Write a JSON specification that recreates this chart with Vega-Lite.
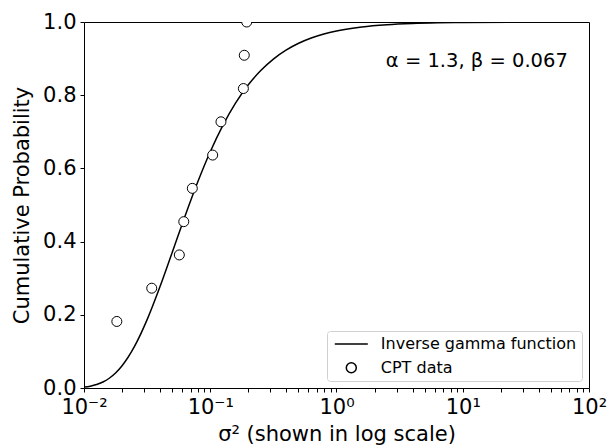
{
  "$schema": "https://vega.github.io/schema/vega-lite/v6.json",
  "width": 505,
  "height": 366,
  "autosize": {"type": "none"},
  "padding": {"left": 84, "top": 22, "right": 18, "bottom": 60},
  "config": {
    "view": {"stroke": "black", "strokeWidth": 1},
    "font": "DejaVu Sans",
    "axis": {
      "labelFont": "DejaVu Sans",
      "titleFont": "DejaVu Sans",
      "labelColor": "black",
      "titleColor": "black",
      "tickColor": "black",
      "tickWidth": 1,
      "ticks": true,
      "domain": false,
      "grid": false,
      "labelFontSize": 21,
      "titleFontSize": 21,
      "titleFontWeight": "normal"
    }
  },
  "datasets": {
    "curve": [
      {"x": 0.01, "F": 0.00253},
      {"x": 0.011220, "F": 0.00508},
      {"x": 0.012589, "F": 0.00944},
      {"x": 0.014125, "F": 0.01635},
      {"x": 0.015849, "F": 0.02661},
      {"x": 0.017783, "F": 0.04097},
      {"x": 0.019953, "F": 0.06003},
      {"x": 0.025119, "F": 0.11352},
      {"x": 0.031623, "F": 0.18673},
      {"x": 0.039811, "F": 0.27513},
      {"x": 0.050119, "F": 0.37178},
      {"x": 0.063096, "F": 0.46942},
      {"x": 0.079433, "F": 0.56193},
      {"x": 0.1, "F": 0.64535},
      {"x": 0.12589, "F": 0.71757},
      {"x": 0.15849, "F": 0.77814},
      {"x": 0.19953, "F": 0.82768},
      {"x": 0.25119, "F": 0.86738},
      {"x": 0.31623, "F": 0.89869},
      {"x": 0.39811, "F": 0.92307},
      {"x": 0.50119, "F": 0.94187},
      {"x": 0.63096, "F": 0.95624},
      {"x": 0.79433, "F": 0.96716},
      {"x": 1.0, "F": 0.97542},
      {"x": 1.5849, "F": 0.98630},
      {"x": 2.5119, "F": 0.99241},
      {"x": 3.9811, "F": 0.99580},
      {"x": 6.3096, "F": 0.99769},
      {"x": 10.0, "F": 0.99873},
      {"x": 31.623, "F": 0.99971},
      {"x": 100.0, "F": 0.99994}
    ],
    "cpt": [
      {"x": 0.0182, "p": 0.1818, "series": "CPT data"},
      {"x": 0.0344, "p": 0.2727, "series": "CPT data"},
      {"x": 0.0569, "p": 0.3636, "series": "CPT data"},
      {"x": 0.0617, "p": 0.4545, "series": "CPT data"},
      {"x": 0.0721, "p": 0.5455, "series": "CPT data"},
      {"x": 0.1045, "p": 0.6364, "series": "CPT data"},
      {"x": 0.1216, "p": 0.7273, "series": "CPT data"},
      {"x": 0.1830, "p": 0.8182, "series": "CPT data"},
      {"x": 0.1860, "p": 0.9091, "series": "CPT data"},
      {"x": 0.1945, "p": 1.0, "series": "CPT data"}
    ],
    "note": [
      {"x": 68, "y": 0.893, "label": "α = 1.3, β = 0.067"}
    ]
  },
  "layer": [
    {
      "data": {"name": "curve"},
      "mark": {"type": "line", "color": "black", "strokeWidth": 1.5, "interpolate": "monotone", "clip": true},
      "encoding": {
        "x": {
          "field": "x", "type": "quantitative",
          "scale": {"type": "log", "domain": [0.01, 100]},
          "axis": {
            "title": "σ² (shown in log scale)",
            "titlePadding": 6,
            "values": [0.01, 0.02, 0.03, 0.04, 0.05, 0.06, 0.07, 0.08, 0.09, 0.1, 0.2, 0.3, 0.4, 0.5, 0.6, 0.7, 0.8, 0.9, 1, 2, 3, 4, 5, 6, 7, 8, 9, 10, 20, 30, 40, 50, 60, 70, 80, 90, 100],
            "labelExpr": "datum.value === 0.01 ? '10⁻²' : datum.value === 0.1 ? '10⁻¹' : datum.value === 1 ? '10⁰' : datum.value === 10 ? '10¹' : datum.value === 100 ? '10²' : ''",
            "labelOverlap": false,
            "labelFlush": false,
            "labelPadding": 4,
            "tickSize": 4,
            "encode": {
              "ticks": {"update": {"y2": {"signal": "indexof([0.01, 0.1, 1, 10, 100], datum.value) >= 0 ? 4 : 2"}}}
            }
          }
        },
        "y": {
          "field": "F", "type": "quantitative",
          "scale": {"domain": [0, 1], "nice": false},
          "axis": {
            "title": "Cumulative Probability",
            "values": [0, 0.2, 0.4, 0.6, 0.8, 1.0],
            "format": ".1f",
            "tickSize": 4,
            "labelPadding": 4,
            "titlePadding": 10
          }
        }
      }
    },
    {
      "data": {"name": "cpt"},
      "mark": {"type": "point", "filled": true, "fill": "white", "stroke": "black", "strokeWidth": 1, "size": 100, "opacity": 1, "clip": true},
      "encoding": {
        "x": {"field": "x", "type": "quantitative"},
        "y": {"field": "p", "type": "quantitative"},
        "shape": {
          "field": "series", "type": "nominal",
          "scale": {"domain": ["Inverse gamma function", "CPT data"], "range": ["M-3.3,0H3.3", "circle"]},
          "legend": {
            "title": null,
            "orient": "bottom-right",
            "offset": 7,
            "padding": 5,
            "rowPadding": 7.7,
            "symbolSize": 100,
            "symbolOffset": 11.3,
            "labelOffset": 21.5,
            "labelLimit": 400,
            "labelFont": "DejaVu Sans",
            "labelFontSize": 16,
            "labelColor": "black",
            "strokeColor": "#d0d0d0",
            "fillColor": "rgba(255,255,255,0.8)",
            "cornerRadius": 3,
            "encode": {
              "symbols": {
                "update": {
                  "stroke": {"value": "black"},
                  "fill": {"value": "white"},
                  "strokeWidth": {"value": 1.3},
                  "opacity": {"value": 1},
                  "fillOpacity": {"value": 1},
                  "strokeOpacity": {"value": 1}
                }
              }
            }
          }
        }
      }
    },
    {
      "data": {"name": "note"},
      "mark": {"type": "text", "align": "right", "baseline": "middle", "fontSize": 19.5, "font": "DejaVu Sans", "color": "black"},
      "encoding": {
        "x": {"field": "x", "type": "quantitative"},
        "y": {"field": "y", "type": "quantitative"},
        "text": {"field": "label"}
      }
    }
  ]
}
